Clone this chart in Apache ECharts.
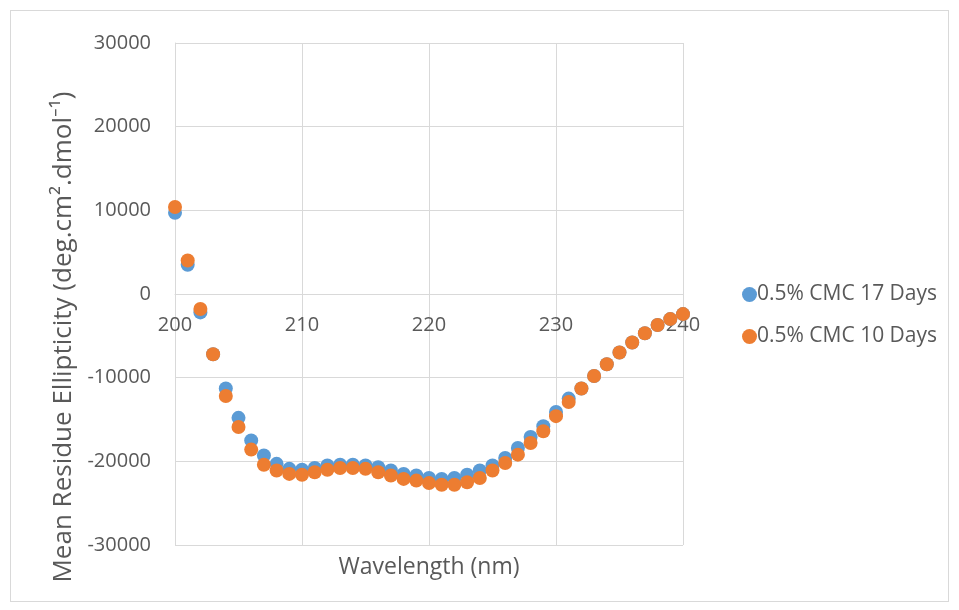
<!DOCTYPE html>
<html>
<head>
<meta charset="utf-8">
<script src="https://cdn.jsdelivr.net/npm/echarts@6/dist/echarts.min.js"></script>
<style>
  html, body { margin: 0; padding: 0; background: #ffffff; }
  #frame { position: absolute; left: 10px; top: 10px; width: 939px; height: 592px; border: 1px solid #d9d9d9; box-sizing: border-box; }
  #chart { position: absolute; left: 0; top: 0; width: 959px; height: 610px; }
</style>
</head>
<body>
<div id="frame"></div>
<div id="chart"></div>
<script>
// Wavelength (nm)
const wavelengths = [200,201,202,203,204,205,206,207,208,209,210,211,212,213,214,215,216,217,218,219,220,
                     221,222,223,224,225,226,227,228,229,230,231,232,233,234,235,236,237,238,239,240];

// Mean residue ellipticity, 0.5% CMC after 17 days
const cmc17Days = [9700,3500,-2200,-7200,-11300,-14800,-17500,-19300,-20300,-20900,-21000,-20800,-20500,-20400,-20400,-20500,-20700,-21100,-21500,-21700,-22000,
                   -22100,-22000,-21600,-21100,-20500,-19600,-18400,-17100,-15800,-14100,-12500,-11300,-9800,-8400,-7000,-5800,-4700,-3700,-3000,-2400];

// Mean residue ellipticity, 0.5% CMC after 10 days
const cmc10Days = [10400,4000,-1800,-7200,-12200,-15900,-18600,-20400,-21100,-21500,-21600,-21300,-21000,-20800,-20800,-20900,-21300,-21700,-22100,-22300,-22600,
                   -22800,-22800,-22500,-22000,-21100,-20200,-19200,-17800,-16400,-14600,-12900,-11300,-9800,-8400,-7000,-5800,-4700,-3700,-3000,-2400];

const seriesNames = ['0.5% CMC 17 Days', '0.5% CMC 10 Days'];
const seriesColors = ['#5B9BD5', '#ED7D31'];

// Axis ranges
const xRange = [200, 240];
const yRange = [-30000, 30000];

const pairs = (ys) => wavelengths.map((x, i) => [x, ys[i]]);

const chart = echarts.init(document.getElementById('chart'));
const textColor = '#595959';
const gridColor = '#d9d9d9';
const font = '"Open Sans", "Noto Sans", sans-serif';

chart.setOption({
  animation: false,
  backgroundColor: 'transparent',
  textStyle: { fontFamily: font },
  grid: { left: 175, right: 276, top: 43, bottom: 65, containLabel: false, outerBoundsMode: 'none' },
  legend: {
    orient: 'vertical',
    left: 737,
    top: 279,
    itemGap: 21,
    itemWidth: 15,
    itemHeight: 15,
    icon: 'circle',
    textStyle: { color: textColor, fontSize: 21, fontFamily: font, padding: [0, 0, 0, -5] },
    data: seriesNames
  },
  xAxis: {
    type: 'value',
    min: xRange[0],
    max: xRange[1],
    interval: 10,
    name: 'Wavelength (nm)',
    nameLocation: 'middle',
    nameGap: 262,
    nameTextStyle: { color: textColor, fontSize: 23, fontFamily: font },
    axisLine: { onZero: false, lineStyle: { color: gridColor, width: 1 } },
    axisTick: { show: false },
    axisLabel: { color: textColor, fontSize: 20, fontFamily: font, margin: 21, formatter: (v) => String(v) },
    splitLine: { show: true, lineStyle: { color: gridColor, width: 1 } }
  },
  yAxis: {
    type: 'value',
    min: yRange[0],
    max: yRange[1],
    interval: 10000,
    name: 'Mean Residue Ellipticity (deg.cm\u00B2.dmol\u207B\u00B9)',
    nameLocation: 'middle',
    nameGap: 98,
    nameTextStyle: { color: textColor, fontSize: 26, fontFamily: font, padding: [0, 86, 0, 0] },
    axisLine: { show: true, onZero: false, lineStyle: { color: gridColor, width: 1 } },
    axisTick: { show: false },
    axisLabel: { color: textColor, fontSize: 20, fontFamily: font, margin: 24, formatter: (v) => String(v) },
    splitLine: { show: true, lineStyle: { color: gridColor, width: 1 } }
  },
  series: [
    {
      name: seriesNames[0],
      type: 'scatter',
      symbol: 'circle',
      symbolSize: 14,
      itemStyle: { color: seriesColors[0], opacity: 1 },
      data: pairs(cmc17Days),
      z: 2
    },
    {
      name: seriesNames[1],
      type: 'scatter',
      symbol: 'circle',
      symbolSize: 14,
      itemStyle: { color: seriesColors[1], opacity: 1 },
      data: pairs(cmc10Days),
      z: 3
    }
  ]
});

// The wavelength axis crosses the ellipticity axis at 0: shift it from the
// bottom edge up to the pixel position of y = 0 on the value scale.
const zeroPx = chart.convertToPixel({ yAxisIndex: 0 }, 0);
const bottomPx = chart.convertToPixel({ yAxisIndex: 0 }, yRange[0]);
chart.setOption({ xAxis: { offset: zeroPx - bottomPx } });
</script>
</body>
</html>
